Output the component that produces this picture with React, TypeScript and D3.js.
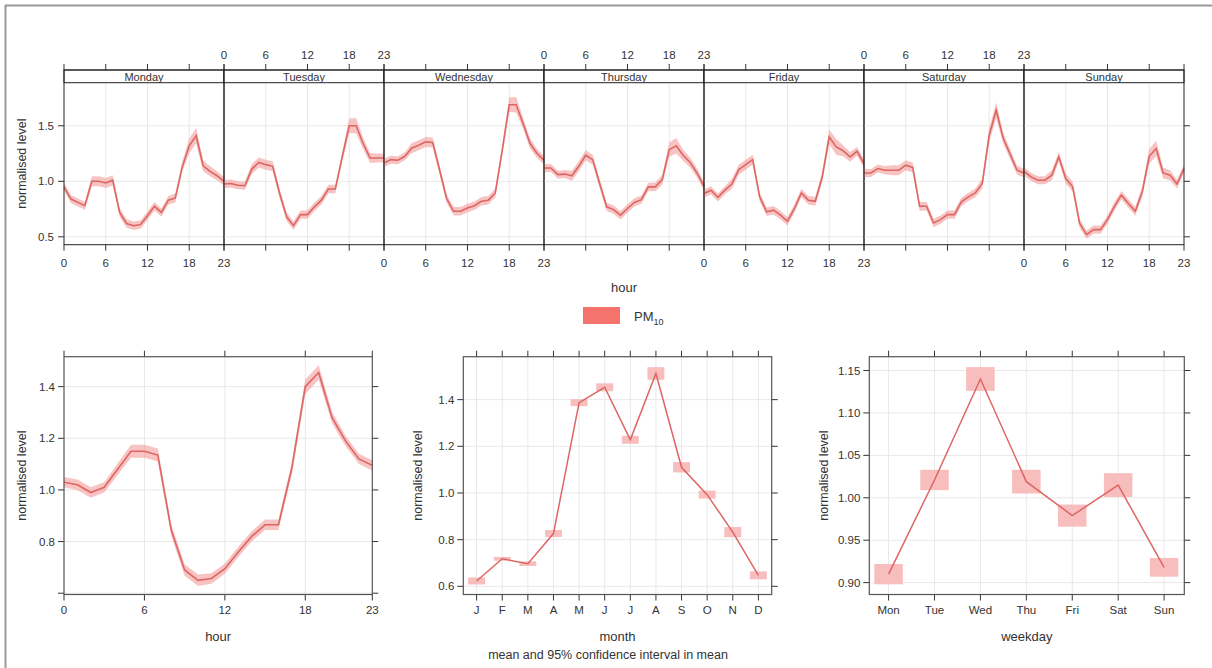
import React from "react";
import * as d3 from "d3";

// hourly normalised PM10 by weekday (hours 0..23)
const dayNames = ["Monday", "Tuesday", "Wednesday", "Thursday", "Friday", "Saturday", "Sunday"];
const mondayLevels = [0.95, 0.84, 0.81, 0.78, 1.0, 1.0, 0.985, 1.01, 0.72, 0.62, 0.6, 0.61, 0.69, 0.775, 0.72, 0.83, 0.85, 1.13, 1.32, 1.41, 1.14, 1.09, 1.05, 1.0];
const tuesdayLevels = [0.975, 0.98, 0.965, 0.96, 1.11, 1.17, 1.15, 1.135, 0.89, 0.68, 0.6, 0.7, 0.7, 0.77, 0.83, 0.93, 0.93, 1.22, 1.5, 1.5, 1.34, 1.21, 1.21, 1.21];
const wednesdayLevels = [1.165, 1.195, 1.19, 1.225, 1.3, 1.325, 1.355, 1.35, 1.1, 0.845, 0.73, 0.73, 0.76, 0.78, 0.82, 0.83, 0.895, 1.28, 1.69, 1.69, 1.52, 1.34, 1.25, 1.19];
const thursdayLevels = [1.12, 1.12, 1.06, 1.065, 1.05, 1.135, 1.235, 1.195, 0.98, 0.77, 0.745, 0.695, 0.755, 0.81, 0.835, 0.95, 0.95, 1.015, 1.285, 1.32, 1.235, 1.17, 1.075, 0.955];
const fridayLevels = [0.89, 0.92, 0.855, 0.92, 0.975, 1.105, 1.15, 1.195, 0.86, 0.725, 0.74, 0.695, 0.64, 0.755, 0.895, 0.83, 0.82, 1.04, 1.4, 1.31, 1.275, 1.22, 1.27, 1.16];
const saturdayLevels = [1.075, 1.075, 1.115, 1.1, 1.1, 1.1, 1.145, 1.125, 0.775, 0.775, 0.625, 0.655, 0.7, 0.7, 0.815, 0.86, 0.895, 0.98, 1.415, 1.64, 1.39, 1.245, 1.1, 1.075];
const sundayLevels = [1.09, 1.04, 1.01, 1.01, 1.055, 1.22, 1.025, 0.95, 0.62, 0.52, 0.565, 0.565, 0.655, 0.775, 0.875, 0.8, 0.73, 0.905, 1.225, 1.295, 1.075, 1.055, 0.975, 1.115];
const weekCi = [0.038, 0.036, 0.036, 0.036, 0.045, 0.045, 0.045, 0.045, 0.04, 0.038, 0.038, 0.038, 0.038, 0.038, 0.038, 0.038, 0.04, 0.045, 0.065, 0.07, 0.05, 0.045, 0.04, 0.038];
const weekLevels = [mondayLevels, tuesdayLevels, wednesdayLevels, thursdayLevels, fridayLevels, saturdayLevels, sundayLevels];

// whole-week diurnal profile
const hourLevels = [1.03, 1.02, 0.99, 1.01, 1.08, 1.15, 1.15, 1.135, 0.845, 0.69, 0.65, 0.657, 0.695, 0.76, 0.82, 0.865, 0.865, 1.085, 1.4, 1.455, 1.28, 1.19, 1.12, 1.095];
const hourCi = [0.02, 0.02, 0.02, 0.02, 0.022, 0.025, 0.025, 0.025, 0.022, 0.022, 0.022, 0.02, 0.02, 0.02, 0.02, 0.02, 0.02, 0.024, 0.028, 0.028, 0.022, 0.02, 0.02, 0.02];

const monthLabels = ["J", "F", "M", "A", "M", "J", "J", "A", "S", "O", "N", "D"];
const monthLevels = [0.623, 0.718, 0.697, 0.826, 1.387, 1.453, 1.228, 1.512, 1.11, 0.993, 0.832, 0.647];
const monthCi = [0.015, 0.008, 0.01, 0.015, 0.015, 0.017, 0.017, 0.027, 0.022, 0.017, 0.022, 0.017];

const weekdayLabels = ["Mon", "Tue", "Wed", "Thu", "Fri", "Sat", "Sun"];
const weekdayLevels = [0.91, 1.021, 1.14, 1.019, 0.979, 1.015, 0.918];
const weekdayCi = [0.012, 0.012, 0.014, 0.014, 0.013, 0.014, 0.011];

const hourTicks = [0, 6, 12, 18, 23];

const FONT = "'Liberation Sans', Arial, sans-serif";
const LINE = "#DD6663";
const BAND = "#F08A88";
const BOX = "#F8BDBD";
const GRID = "#E8E8E8";
const TXT = "#333";

type Lin = d3.ScaleLinear<number, number>;

function YAxis({ y, ticks, labels, left, right, fmt }: { y: Lin; ticks: number[]; labels: number[]; left: number; right: number; fmt: (v: number) => string }) {
  return (
    <g>
      {ticks.map((t) => (
        <g key={t}>
          <line x1={left} x2={right} y1={y(t)} y2={y(t)} stroke={GRID} />
          <line x1={left - 6} x2={left} y1={y(t)} y2={y(t)} stroke="#333" />
          <line x1={right} x2={right + 6} y1={y(t)} y2={y(t)} stroke="#333" />
        </g>
      ))}
      {labels.map((t) => (
        <text key={"l" + t} x={left - 9} y={y(t)} dy="0.35em" textAnchor="end" fontSize={11.5} fill={TXT} fontFamily={FONT}>
          {fmt(t)}
        </text>
      ))}
    </g>
  );
}

function CatPanel({ x, y, n, labels, levels, ci, yTicks, yFmt, left, right, top, bottom, xTitle, boxHalf }: any) {
  const idx = d3.range(1, n + 1);
  const line = d3.line<number>().x((d, i) => x(i + 1)).y((d) => y(d));
  return (
    <g>
      {idx.map((i) => (
        <g key={i}>
          <line x1={x(i)} x2={x(i)} y1={top} y2={bottom} stroke={GRID} />
          <line x1={x(i)} x2={x(i)} y1={top - 6} y2={top} stroke="#333" />
          <line x1={x(i)} x2={x(i)} y1={bottom} y2={bottom + 6} stroke="#333" />
          <text x={x(i)} y={bottom + 19} textAnchor="middle" fontSize={11.5} fill={TXT} fontFamily={FONT}>
            {labels[i - 1]}
          </text>
        </g>
      ))}
      <YAxis y={y} ticks={yTicks} labels={yTicks} left={left} right={right} fmt={yFmt} />
      {levels.map((v: number, i: number) => (
        <rect key={"b" + i} x={x(i + 1 - boxHalf)} width={x(i + 1 + boxHalf) - x(i + 1 - boxHalf)} y={y(v + ci[i])} height={y(v - ci[i]) - y(v + ci[i])} fill={BOX} />
      ))}
      <path d={line(levels) || ""} fill="none" stroke={LINE} strokeWidth={1.5} />
      <rect x={left} y={top} width={right - left} height={bottom - top} fill="none" stroke="#555" strokeWidth={1.2} />
      <text x={(left + right) / 2} y={bottom + 46} textAnchor="middle" fontSize={13} fill={TXT} fontFamily={FONT}>
        {xTitle}
      </text>
      <text transform={`translate(${left - 41},${(top + bottom) / 2}) rotate(-90)`} textAnchor="middle" fontSize={12.5} fill={TXT} fontFamily={FONT}>
        normalised level
      </text>
    </g>
  );
}

export default function App() {
  // top panel geometry
  const tL = 64, tR = 1184, stripTop = 70, tTop = 82.7, tBot = 244.7;
  const dayW = (tR - tL) / 7;
  const yW = d3.scaleLinear().domain([0.429, 1.888]).range([tBot, tTop]);
  const dayX = (d: number) => d3.scaleLinear().domain([0, 23]).range([tL + d * dayW, tL + (d + 1) * dayW]);

  // hour panel
  const hL = 64, hR = 372.3, bTop = 356.7, bBot = 594.5;
  const xH = d3.scaleLinear().domain([0, 23]).range([hL, hR]);
  const yH = d3.scaleLinear().domain([0.595, 1.516]).range([bBot, bTop]);

  // month panel
  const mL = 463.3, mR = 771.7;
  const xM = d3.scaleLinear().domain([0.48, 12.52]).range([mL, mR]);
  const yM = d3.scaleLinear().domain([0.565, 1.587]).range([bBot, bTop - 0.7]);

  // weekday panel
  const wL = 869.3, wR = 1184.3;
  const xWd = d3.scaleLinear().domain([0.58, 7.44]).range([wL, wR]);
  const yWd = d3.scaleLinear().domain([0.886, 1.1663]).range([bBot, bTop]);

  const hourLine = d3.line<number>().x((d, i) => xH(i)).y((d) => yH(d));
  const hourArea = d3.area<number>().x((d, i) => xH(i)).y0((d, i) => yH(d - hourCi[i])).y1((d, i) => yH(d + hourCi[i]));

  return (
    <svg width={1212} height={668} style={{ position: "absolute", left: 0, top: 0, background: "#fff" }} fontFamily={FONT}>
      <rect x={0} y={0} width={1212} height={668} fill="#fff" />
      <line x1={5.5} x2={5.5} y1={5} y2={668} stroke="#9a9a9a" strokeWidth={2} />
      <line x1={5} x2={1212} y1={5.5} y2={5.5} stroke="#9a9a9a" strokeWidth={2} />

      {/* weekly hourly panel */}
      <g>
        {weekLevels.map((lv, d) => {
          const x = dayX(d);
          const area = d3.area<number>().x((v, i) => x(i)).y0((v, i) => yW(v - weekCi[i])).y1((v, i) => yW(v + weekCi[i]));
          const line = d3.line<number>().x((v, i) => x(i)).y((v) => yW(v));
          const labelsBottom = d % 2 === 0;
          return (
            <g key={d}>
              {[6, 12, 18].map((h) => (
                <line key={h} x1={x(h)} x2={x(h)} y1={tTop} y2={tBot} stroke={GRID} />
              ))}
              {[0.5, 1.0, 1.5].map((t) => (
                <line key={"g" + t} x1={x(0)} x2={x(23)} y1={yW(t)} y2={yW(t)} stroke={GRID} />
              ))}
              {hourTicks.map((h) => (
                <g key={"t" + h}>
                  <line x1={x(h)} x2={x(h)} y1={stripTop - 6} y2={stripTop} stroke="#333" />
                  <line x1={x(h)} x2={x(h)} y1={tBot} y2={tBot + 6} stroke="#333" />
                  <text x={x(h)} y={labelsBottom ? tBot + 22 : stripTop - 11} textAnchor="middle" fontSize={11.5} fill={TXT} fontFamily={FONT}>
                    {h}
                  </text>
                </g>
              ))}
              <path d={area(lv) || ""} fill={BAND} fillOpacity={0.5} />
              <path d={line(lv) || ""} fill="none" stroke={LINE} strokeWidth={1.6} />
              <rect x={x(0)} y={stripTop} width={dayW} height={tTop - stripTop} fill="#fff" stroke="#222" strokeWidth={1} />
              <text x={x(0) + dayW / 2} y={tTop - 2} textAnchor="middle" fontSize={11} fill={TXT} fontFamily={FONT}>
                {dayNames[d]}
              </text>
              <rect x={x(0)} y={stripTop} width={dayW} height={tBot - stripTop} fill="none" stroke="#222" strokeWidth={1} />
            </g>
          );
        })}
        {[0.5, 1.0, 1.5].map((t) => (
          <g key={"y" + t}>
            <line x1={tL - 6} x2={tL} y1={yW(t)} y2={yW(t)} stroke="#333" />
            <line x1={tR} x2={tR + 6} y1={yW(t)} y2={yW(t)} stroke="#333" />
            <text x={tL - 10} y={yW(t)} dy="0.35em" textAnchor="end" fontSize={11.5} fill={TXT} fontFamily={FONT}>
              {t.toFixed(1)}
            </text>
          </g>
        ))}
        <text transform={`translate(22,${(tTop + tBot) / 2}) rotate(-90)`} textAnchor="middle" dy="0.35em" fontSize={12.5} fill={TXT} fontFamily={FONT}>
          normalised level
        </text>
        <text x={(tL + tR) / 2} y={292} textAnchor="middle" fontSize={13} fill={TXT} fontFamily={FONT}>
          hour
        </text>
      </g>

      {/* legend */}
      <rect x={583} y={307} width={37} height={17} fill="#F4736D" />
      <text x={634} y={321} fontSize={13} fill={TXT} fontFamily={FONT}>
        PM<tspan dy={4} fontSize={9}>10</tspan>
      </text>

      {/* hour panel */}
      <g>
        {[6, 12, 18].map((h) => (
          <line key={h} x1={xH(h)} x2={xH(h)} y1={bTop} y2={bBot} stroke={GRID} />
        ))}
        {hourTicks.map((h) => (
          <g key={h}>
            <line x1={xH(h)} x2={xH(h)} y1={bTop - 6} y2={bTop} stroke="#333" />
            <line x1={xH(h)} x2={xH(h)} y1={bBot} y2={bBot + 6} stroke="#333" />
            <text x={xH(h)} y={bBot + 19} textAnchor="middle" fontSize={11.5} fill={TXT} fontFamily={FONT}>
              {h}
            </text>
          </g>
        ))}
        <YAxis y={yH} ticks={[0.6, 0.8, 1.0, 1.2, 1.4]} labels={[0.8, 1.0, 1.2, 1.4]} left={hL} right={hR} fmt={(v) => v.toFixed(1)} />
        <path d={hourArea(hourLevels) || ""} fill={BAND} fillOpacity={0.5} />
        <path d={hourLine(hourLevels) || ""} fill="none" stroke={LINE} strokeWidth={1.6} />
        <rect x={hL} y={bTop} width={hR - hL} height={bBot - bTop} fill="none" stroke="#555" strokeWidth={1.2} />
        <text x={(hL + hR) / 2} y={bBot + 46} textAnchor="middle" fontSize={13} fill={TXT} fontFamily={FONT}>
          hour
        </text>
        <text transform={`translate(22,${(bTop + bBot) / 2}) rotate(-90)`} textAnchor="middle" dy="0.35em" fontSize={12.5} fill={TXT} fontFamily={FONT}>
          normalised level
        </text>
      </g>

      <CatPanel x={xM} y={yM} n={12} labels={monthLabels} levels={monthLevels} ci={monthCi} yTicks={[0.6, 0.8, 1.0, 1.2, 1.4]} yFmt={(v: number) => v.toFixed(1)} left={mL} right={mR} top={bTop} bottom={bBot} xTitle="month" boxHalf={0.33} />
      <CatPanel x={xWd} y={yWd} n={7} labels={weekdayLabels} levels={weekdayLevels} ci={weekdayCi} yTicks={[0.9, 0.95, 1.0, 1.05, 1.1, 1.15]} yFmt={(v: number) => v.toFixed(2)} left={wL} right={wR} top={bTop} bottom={bBot} xTitle="weekday" boxHalf={0.31} />

      <text x={608} y={659} textAnchor="middle" fontSize={12.5} fill={TXT} fontFamily={FONT}>
        mean and 95% confidence interval in mean
      </text>
    </svg>
  );
}
